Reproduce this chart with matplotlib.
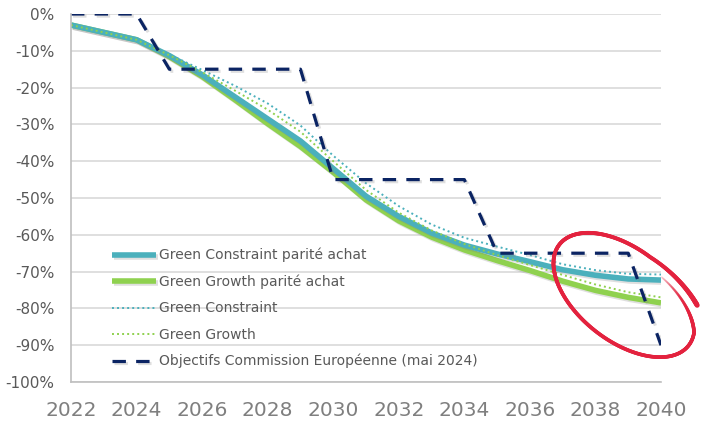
import matplotlib
matplotlib.use("Agg")
import matplotlib.pyplot as plt
import matplotlib.patheffects as pe
from matplotlib.collections import LineCollection
from matplotlib.ticker import FuncFormatter
import numpy as np

# data
years = list(range(2022, 2041))
green_constraint_pa = [-3, -5, -7, -11.3, -16.5, -22.5, -28.5, -34.5, -42, -49.5,
                       -55, -59.5, -62.8, -65.2, -67.3, -69.5, -71, -72, -72.3]
green_growth_pa = [-3, -5, -7, -11.6, -17, -23.3, -29.8, -36, -43, -50.5,
                   -56.2, -60.6, -64.1, -67, -69.7, -72.6, -75.1, -77, -78.5]
green_constraint = [-3, -5, -7, -11, -15.2, -19.5, -24.3, -30.3, -38.5, -46,
                    -52.2, -57.2, -60.8, -63.2, -65.5, -68, -69.6, -70.6, -70.8]
green_growth = [-3, -5, -7, -11.2, -15.8, -20.8, -26, -32, -40, -47.8,
                -54, -58.8, -62.5, -65.5, -68.2, -70.9, -73.5, -75.6, -77]
objectifs = [0, 0, 0, -15, -15, -15, -15, -15, -45, -45,
             -45, -45, -45, -65, -65, -65, -65, -65, -90]

labels = ["Green Constraint parité achat", "Green Growth parité achat",
          "Green Constraint", "Green Growth",
          "Objectifs Commission Européenne (mai 2024)"]

teal = "#4BB0BC"
green = "#8FD14F"
navy = "#0B2463"
red = "#E3223E"

W, H = 707, 423
fig = plt.figure(figsize=(W / 100, H / 100), dpi=100)
ax = fig.add_axes([71 / W, 1 - 382 / H, (661 - 71) / W, (382 - 14) / H])

shadow = [pe.SimpleLineShadow(offset=(1.5, -1.5), alpha=0.25, shadow_color="gray"), pe.Normal()]

ax.plot(years, green_constraint_pa, color=teal, lw=4, label=labels[0],
        solid_capstyle="butt", path_effects=shadow)
ax.plot(years, green_growth_pa, color=green, lw=4, label=labels[1],
        solid_capstyle="butt", path_effects=shadow, zorder=1.9)
ax.plot(years, green_constraint, color=teal, lw=1.4, ls=(0, (1, 1.6)), label=labels[2])
ax.plot(years, green_growth, color=green, lw=1.4, ls=(0, (1, 1.6)), label=labels[3])
ax.plot(years, objectifs, color=navy, lw=2.3, dashes=(4.2, 3.2), label=labels[4],
        path_effects=shadow)

ax.set_xlim(2022, 2040)
ax.set_ylim(-100, 0)
ax.set_xticks(range(2022, 2041, 2))
ax.set_yticks(range(-100, 1, 10))
ax.yaxis.set_major_formatter(FuncFormatter(lambda v, _: f"{int(round(v))}%"))

ax.grid(axis="y", color="#D9D9D9", lw=1.2)
ax.set_axisbelow(True)
for s in ["top", "right"]:
    ax.spines[s].set_visible(False)
for s in ["left", "bottom"]:
    ax.spines[s].set_color("#BFBFBF")
    ax.spines[s].set_linewidth(1.2)
ax.tick_params(axis="both", length=0)
ax.tick_params(axis="x", labelsize=14.5, labelcolor="#7F7F7F", pad=14)
ax.tick_params(axis="y", labelsize=11, labelcolor="#595959", pad=12)

leg = ax.legend(loc="upper left", bbox_to_anchor=(112 / W, 1 - 248 / H),
                bbox_transform=fig.transFigure, frameon=False, fontsize=10,
                handlelength=3.15, handletextpad=0.25, labelspacing=0.88,
                borderpad=0, borderaxespad=0)
for t in leg.get_texts():
    t.set_color("#595959")

# hand-drawn red loop around the 2040 gap (pixel coords, y downwards)
t0, t1 = -0.8, -2 * np.pi - 1.3
t = np.linspace(t0, t1, 500)
r = np.interp(t, [t1, -2 * np.pi - 0.3, -1.6, t0], [0.84, 1.0, 1.0, 1.12])
ang = np.deg2rad(38)
a, b = 82 * r, 46 * r
px = 624 + a * np.cos(t) * np.cos(ang) - b * np.sin(t) * np.sin(ang)
py = 295 + a * np.cos(t) * np.sin(ang) + b * np.sin(t) * np.cos(ang)
pts = np.column_stack([px / W, 1 - py / H])
segs = np.stack([pts[:-1], pts[1:]], axis=1)
tm = t[:-1]
alpha = np.interp(tm, [t1, -2 * np.pi - 0.5, t0], [0.1, 1.0, 1.0])
widths = np.interp(tm, [t1, -2 * np.pi - 0.5, -1.4, t0], [1.2, 2.6, 2.8, 3.6])
colors = [matplotlib.colors.to_rgba(red, al) for al in alpha]
lc = LineCollection(segs, colors=colors, linewidths=widths, capstyle="round",
                    transform=fig.transFigure)
fig.add_artist(lc)

fig.savefig("out.png", dpi=100)
